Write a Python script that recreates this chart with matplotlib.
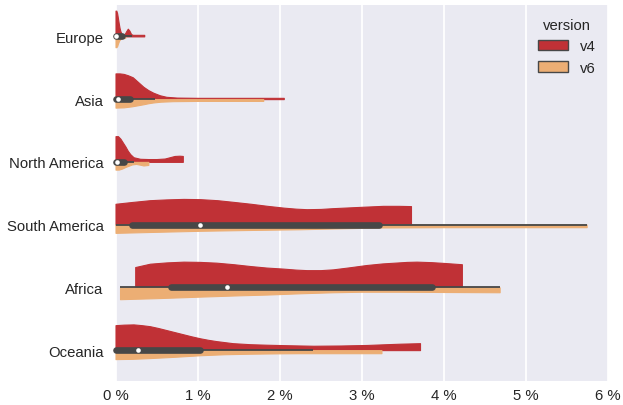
import matplotlib
matplotlib.use("Agg")
import matplotlib.pyplot as plt
from matplotlib.patches import Patch
from matplotlib.ticker import FuncFormatter
import numpy as np

# ---------------- data ----------------
regions = ["Europe", "Asia", "North America", "South America", "Africa", "Oceania"]
versions = ["v4", "v6"]
xticks = [0, 1, 2, 3, 4, 5, 6]

# density profiles: position (%) and relative half-width (1 = widest v4 half)
europe_v4_x = [0, 0.01, 0.02, 0.03, 0.04, 0.05, 0.06, 0.075, 0.09, 0.11, 0.13, 0.15, 0.17, 0.19, 0.21, 0.25, 0.30, 0.35]
europe_v4_w = [1.0, 1.0, 0.9, 0.7, 0.5, 0.32, 0.2, 0.1, 0.06, 0.08, 0.2, 0.3, 0.22, 0.09, 0.06, 0.06, 0.06, 0.06]
europe_v6_x = [0, 0.01, 0.02, 0.03, 0.045, 0.06, 0.08, 0.10, 0.12]
europe_v6_w = [0.42, 0.42, 0.38, 0.28, 0.16, 0.1, 0.07, 0.06, 0.05]

asia_v4_x = [0, 0.05, 0.1, 0.15, 0.21, 0.27, 0.34, 0.4, 0.46, 0.54, 0.62, 0.75, 1.0, 1.5, 1.8, 2.05]
asia_v4_w = [1.0, 1.0, 0.98, 0.93, 0.85, 0.68, 0.48, 0.35, 0.25, 0.15, 0.09, 0.06, 0.05, 0.05, 0.05, 0.05]
asia_v6_x = [0, 0.1, 0.2, 0.27, 0.34, 0.4, 0.46, 0.55, 0.7, 1.0, 1.4, 1.8]
asia_v6_w = [0.33, 0.32, 0.28, 0.24, 0.2, 0.16, 0.13, 0.1, 0.08, 0.07, 0.07, 0.07]

namerica_v4_x = [0, 0.03, 0.06, 0.09, 0.12, 0.15, 0.18, 0.22, 0.3, 0.4, 0.5, 0.6, 0.66, 0.72, 0.78, 0.82]
namerica_v4_w = [1.0, 1.0, 0.9, 0.75, 0.6, 0.43, 0.3, 0.18, 0.12, 0.11, 0.11, 0.13, 0.18, 0.23, 0.24, 0.23]
namerica_v6_x = [0, 0.04, 0.08, 0.12, 0.16, 0.2, 0.25, 0.3, 0.34, 0.37, 0.4]
namerica_v6_w = [0.3, 0.3, 0.26, 0.2, 0.15, 0.1, 0.08, 0.11, 0.14, 0.13, 0.12]

samerica_v4_x = [0, 0.2, 0.42, 0.62, 0.83, 1.03, 1.24, 1.45, 1.65, 1.85, 2.05, 2.2, 2.33,
                 2.5, 2.65, 2.85, 3.05, 3.26, 3.45, 3.6]
samerica_v4_w = [0.81, 0.88, 0.95, 0.98, 1.0, 0.99, 0.95, 0.88, 0.81, 0.73, 0.66, 0.62, 0.60,
                 0.61, 0.64, 0.67, 0.70, 0.73, 0.73, 0.72]
samerica_v6_x = [0, 0.5, 1.03, 1.6, 2.25, 2.8, 3.26, 4.0, 5.0, 5.74]
samerica_v6_w = [0.32, 0.28, 0.24, 0.21, 0.18, 0.14, 0.11, 0.1, 0.1, 0.1]

africa_v4_x = [0.24, 0.42, 0.62, 0.83, 1.03, 1.23, 1.44, 1.64, 1.84, 2.04, 2.2, 2.33, 2.5,
               2.65, 2.85, 3.06, 3.25, 3.4, 3.55, 3.67, 3.85, 4.0, 4.22]
africa_v4_w = [0.79, 0.92, 0.97, 1.0, 0.99, 0.96, 0.9, 0.83, 0.77, 0.73, 0.69, 0.67, 0.67,
               0.70, 0.78, 0.87, 0.93, 0.96, 0.99, 1.0, 0.98, 0.95, 0.9]
africa_v6_x = [0.055, 0.5, 1.03, 1.5, 1.84, 2.25, 2.65, 3.0, 3.47, 4.0, 4.68]
africa_v6_w = [0.46, 0.42, 0.36, 0.31, 0.28, 0.23, 0.19, 0.17, 0.17, 0.18, 0.19]

oceania_v4_x = [0, 0.1, 0.22, 0.32, 0.42, 0.52, 0.62, 0.72, 0.82, 0.92, 1.03, 1.13, 1.23,
                1.33, 1.43, 1.64, 1.84, 2.1, 2.41, 2.75, 3.06, 3.3, 3.47, 3.71]
oceania_v4_w = [0.97, 0.99, 1.0, 0.97, 0.93, 0.86, 0.78, 0.70, 0.62, 0.54, 0.46, 0.40, 0.35,
                0.31, 0.27, 0.23, 0.21, 0.19, 0.17, 0.18, 0.2, 0.23, 0.25, 0.27]
oceania_v6_x = [0, 0.2, 0.42, 0.72, 1.03, 1.33, 1.64, 2.0, 2.25, 3.24]
oceania_v6_w = [0.35, 0.34, 0.31, 0.26, 0.2, 0.16, 0.14, 0.125, 0.12, 0.12]

# inner box summary per region (%)
whisker_low = [0, 0, 0, 0, 0.055, 0]
quartile_1 = [0, 0, 0, 0.2, 0.68, 0]
median = [0.01, 0.03, 0.015, 1.03, 1.36, 0.28]
quartile_3 = [0.08, 0.18, 0.1, 3.21, 3.85, 1.03]
whisker_high = [0.2, 0.48, 0.22, 5.74, 4.68, 2.41]

profiles = [
    ((europe_v4_x, europe_v4_w), (europe_v6_x, europe_v6_w)),
    ((asia_v4_x, asia_v4_w), (asia_v6_x, asia_v6_w)),
    ((namerica_v4_x, namerica_v4_w), (namerica_v6_x, namerica_v6_w)),
    ((samerica_v4_x, samerica_v4_w), (samerica_v6_x, samerica_v6_w)),
    ((africa_v4_x, africa_v4_w), (africa_v6_x, africa_v6_w)),
    ((oceania_v4_x, oceania_v4_w), (oceania_v6_x, oceania_v6_w)),
]

# ---------------- style ----------------
RED = "#c03136"
ORANGE = "#ecae74"
BOX = "#474747"
TEXT = "#262626"
HALF = 0.41

plt.rcParams["font.family"] = ["Liberation Sans", "DejaVu Sans"]

fig = plt.figure(figsize=(6.23, 4.06), dpi=100)
ax = fig.add_axes([0.1854, 0.0579, 0.9759 - 0.1854, 0.9852 - 0.0579])
ax.set_facecolor("#EAEAF2")
for s in ax.spines.values():
    s.set_visible(False)

ax.set_xlim(xticks[0], xticks[-1])
ax.set_ylim(len(regions) - 0.5, -0.5)
ax.set_xticks(xticks)
ax.xaxis.set_major_formatter(FuncFormatter(lambda v, p: f"{v:.0f} %"))
ax.set_yticks(range(len(regions)))
ax.set_yticklabels(regions)
ax.grid(axis="x", color="white", lw=1.3)
ax.grid(axis="y", visible=False)
ax.set_axisbelow(True)
ax.tick_params(length=0, labelsize=10.7, colors=TEXT)
ax.tick_params(axis="y", pad=8.6)
ax.tick_params(axis="x", pad=4.5)

for i, ((x4, w4), (x6, w6)) in enumerate(profiles):
    x4 = np.asarray(x4); w4 = np.asarray(w4)
    x6 = np.asarray(x6); w6 = np.asarray(w6)
    ax.fill_between(x4, i, i - HALF * w4, facecolor=RED, edgecolor=RED,
                    lw=0.8, zorder=2, clip_on=False)
    ax.fill_between(x6, i, i + HALF * w6, facecolor=ORANGE, edgecolor=ORANGE,
                    lw=0.8, zorder=2, clip_on=False)
    ax.plot([whisker_low[i], whisker_high[i]], [i, i], color=BOX, lw=1.3,
            solid_capstyle="butt", zorder=3, clip_on=False)
    ax.plot([quartile_1[i], quartile_3[i]], [i, i], color=BOX, lw=4.8,
            solid_capstyle="round", zorder=4, clip_on=False)
    ax.plot([median[i]], [i], "o", color="white", ms=3.3, mew=0, zorder=5,
            clip_on=False)

handles = [Patch(facecolor=c, edgecolor=BOX, lw=1.0, label=v)
           for v, c in zip(versions, [RED, ORANGE])]
leg = ax.legend(handles=handles, title="version", loc="upper right",
                frameon=False, fontsize=10.7, title_fontsize=10.7,
                borderaxespad=0.45, labelspacing=0.5)
for t in leg.get_texts():
    t.set_color(TEXT)
leg.get_title().set_color(TEXT)

fig.savefig("out.png", dpi=100)
